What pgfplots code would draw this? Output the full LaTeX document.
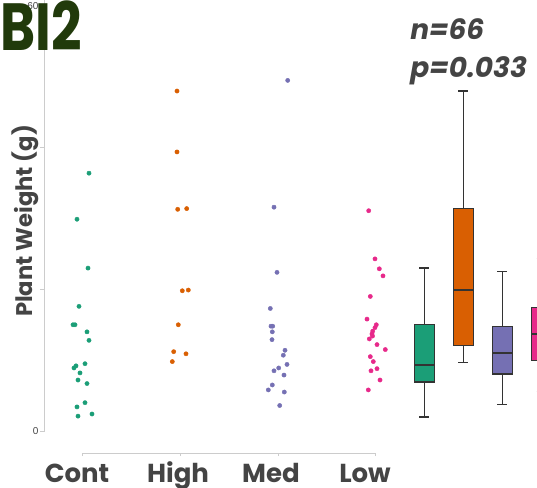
\documentclass[border=0pt]{standalone}
\usepackage{pgfplots}
\pgfplotsset{compat=1.18}
\usepackage{fontspec}
\setmainfont{Poppins}
\newfontfamily\lib{Liberation Sans}
\definecolor{cA}{HTML}{1B9E77}
\definecolor{cB}{HTML}{D95F02}
\definecolor{cC}{HTML}{7570B3}
\definecolor{cD}{HTML}{E7298A}
\definecolor{boxline}{HTML}{333333}
\definecolor{txt}{HTML}{444444}
\definecolor{ttl}{HTML}{213A0B}
\definecolor{axgray}{HTML}{CCCCCC}
\pgfplotsset{
  pts/.style={only marks, mark=*, mark size=1.6pt, color=#1, mark options={solid, draw=#1, fill=#1, line width=0.3pt}},
  wsk/.style={draw=boxline, line width=1pt, no marks},
  bx/.style={draw=boxline, fill=#1, line width=1pt, no marks},
  med/.style={draw=boxline, line width=1.8pt, no marks},
}
\begin{document}
\begin{tikzpicture}
\useasboundingbox (-33.75pt,-42pt) rectangle (369pt,323.25pt);
\begin{axis}[
  at={(0,0)}, anchor=south west, scale only axis,
  width=369pt, height=323.25pt,
  xmin=45, xmax=537, ymin=0, ymax=60.85,
  axis y line*=left, axis x line*=bottom,
  x axis line style={draw=none},
  y axis line style={draw=axgray, line width=0.75pt},
  ytick={0,20,40,60}, yticklabels={0,,,60},
  xtick={77,178,271,365}, xticklabels={Cont,High,Med,Low},
  tick align=outside,
  major tick length=3.75pt,
  y tick style={draw=axgray, line width=0.75pt},
  x tick style={draw=none},
  /pgf/number format/assume math mode=true,
  yticklabel style={font=\lib\fontsize{7.5}{9}\selectfont, text=txt, inner sep=1pt},
  xticklabel style={font=\bfseries\fontsize{19.5}{24}\selectfont, text=txt, anchor=base, yshift=-34.5pt},
]
% jittered points
\addplot[pts=cA] coordinates {
(89,36.4)(77,29.9)(88,23.0)(79,17.6)(73,15.0)(75,15.0)(87,14.0)(89,12.8)(85,9.5)
(76,9.2)(74,8.9)(80,8.2)(78,7.2)(87,6.7)(85,4.0)(77,3.4)(78,2.1)(92,2.4)};
\addplot[pts=cB] coordinates {
(177,48.0)(177,39.4)(177.7,31.3)(186.7,31.4)(182.3,19.8)(188.3,19.9)(178.3,15.0)
(173.7,11.2)(186,10.9)(172.3,9.8)};
\addplot[pts=cC] coordinates {
(287.7,49.5)(274,31.6)(277,22.4)(270.3,17.3)(271,14.8)(272.7,14.8)(272.3,14.0)(272,12.9)
(285,11.4)(283.3,10.7)(287,9.4)(274,8.5)(278.7,8.9)(284,7.9)(272.3,6.5)(268.3,5.8)
(284.3,5.5)(279.7,3.6)};
\addplot[pts=cD] coordinates {
(368.7,31.1)(375,24.3)(379.3,22.9)(383,21.9)(370.3,19.0)(367,15.8)(376.3,15.0)(375,14.6)
(372.7,14.1)(372,13.7)(369.3,13.0)(377,12.2)(385.3,11.5)(370.3,10.5)(373.3,9.8)
(371,8.5)(377,8.8)(380,7.2)(368.3,5.8)(372.5,13.4)};
% box plot Cont: c=424.3, lw=2.0, q1=6.9, med=9.3, q3=15.0, uw=23.0
\addplot[wsk] coordinates {(424.3,2.0)(424.3,6.9)};
\addplot[wsk] coordinates {(424.3,15.0)(424.3,23.0)};
\addplot[wsk] coordinates {(419.3,2.0)(429.3,2.0)};
\addplot[wsk] coordinates {(419.3,23.0)(429.3,23.0)};
\addplot[bx=cA] coordinates {(414.3,6.9)(434.3,6.9)(434.3,15.0)(414.3,15.0)} --cycle;
\addplot[med] coordinates {(414.3,9.3)(434.3,9.3)};
% box plot High: c=463.3, lw=9.7, q1=12.1, med=19.9, q3=31.4, uw=48.0
\addplot[wsk] coordinates {(463.3,9.7)(463.3,12.1)};
\addplot[wsk] coordinates {(463.3,31.4)(463.3,48.0)};
\addplot[wsk] coordinates {(458.3,9.7)(468.3,9.7)};
\addplot[wsk] coordinates {(458.3,48.0)(468.3,48.0)};
\addplot[bx=cB] coordinates {(453.3,12.1)(473.3,12.1)(473.3,31.4)(453.3,31.4)} --cycle;
\addplot[med] coordinates {(453.3,19.9)(473.3,19.9)};
% box plot Med: c=502.3, lw=3.7, q1=8.05, med=11.0, q3=14.8, uw=22.5
\addplot[wsk] coordinates {(502.3,3.7)(502.3,8.05)};
\addplot[wsk] coordinates {(502.3,14.8)(502.3,22.5)};
\addplot[wsk] coordinates {(497.3,3.7)(507.3,3.7)};
\addplot[wsk] coordinates {(497.3,22.5)(507.3,22.5)};
\addplot[bx=cC] coordinates {(492.3,8.05)(512.3,8.05)(512.3,14.8)(492.3,14.8)} --cycle;
\addplot[med] coordinates {(492.3,11.0)(512.3,11.0)};
% box plot Low: c=541.7, lw=5.6, q1=10.0, med=13.7, q3=17.4, uw=24.3
\addplot[wsk] coordinates {(541.7,5.6)(541.7,10.0)};
\addplot[wsk] coordinates {(541.7,17.4)(541.7,24.3)};
\addplot[wsk] coordinates {(536.7,5.6)(546.7,5.6)};
\addplot[wsk] coordinates {(536.7,24.3)(546.7,24.3)};
\addplot[bx=cD] coordinates {(531.7,10.0)(551.7,10.0)(551.7,17.4)(531.7,17.4)} --cycle;
\addplot[med] coordinates {(531.7,13.7)(551.7,13.7)};
\end{axis}
% separate x axis line
\begin{axis}[
  at={(28.275pt,-16.5pt)}, anchor=south west, scale only axis,
  width=219.975pt, height=5pt,
  xmin=82.7, xmax=376, ymin=0, ymax=1,
  axis x line*=bottom, hide y axis,
  xtick={82.7,180.3,278.7,376}, xticklabels={},
  tick align=outside, major tick length=2.25pt,
  x axis line style={draw=axgray, line width=0.75pt},
  x tick style={draw=axgray, line width=0.75pt},
]
\addplot[draw=none] coordinates {(100,0.5)};
\end{axis}
\node[anchor=base west, inner sep=0pt, text=ttl] at (-33.75pt,285.75pt)
  {\scalebox{0.8}[1]{\bfseries\fontsize{50}{50}\selectfont BI2}};
\node[anchor=base west, inner sep=0pt, text=txt, font=\bfseries\itshape\fontsize{21}{24}\selectfont] at (273.75pt,294pt) {n=66};
\node[anchor=base west, inner sep=0pt, text=txt, font=\bfseries\itshape\fontsize{21}{24}\selectfont] at (273.75pt,265.5pt) {p=0.033};
\node[rotate=90, inner sep=0pt, text=txt, font=\bfseries\fontsize{17}{20}\selectfont] at (-15pt,157.5pt) {Plant Weight (g)};
\end{tikzpicture}
\end{document}
